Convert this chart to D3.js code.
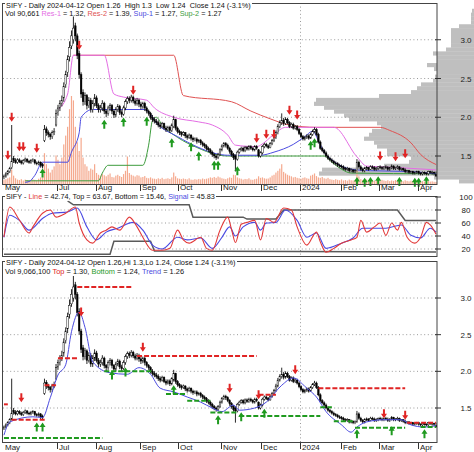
<!DOCTYPE html>
<html>
<head>
<meta charset="utf-8">
<script src="https://cdn.jsdelivr.net/npm/d3@7/dist/d3.min.js"></script>
<style>
  html, body { margin: 0; padding: 0; background: #fff; }
  svg { display: block; }
  text { font-family: "Liberation Sans", Arial, sans-serif; }
</style>
</head>
<body>
<svg id="chart" width="474" height="452"></svg>
<script>
// ---- Daily SIFY prices, 2023-05-22 .. 2024-04-12 ----
const openP = [
  1.22,1.24,1.27,1.30,1.35,1.47,1.44,1.42,1.45,1.43,
  1.41,1.44,1.46,1.43,1.42,1.44,1.45,1.41,1.40,1.42,
  1.39,1.70,1.85,1.80,1.78,1.75,1.80,1.90,2.06,2.12,
  2.18,2.25,2.42,2.58,2.78,2.92,3.00,3.18,3.05,2.82,
  2.55,2.32,2.20,2.28,2.15,2.22,2.10,2.18,2.25,2.15,
  2.10,2.12,2.18,2.08,2.05,2.12,2.15,2.08,2.03,2.10,
  2.14,2.06,2.04,2.12,2.20,2.24,2.22,2.26,2.21,2.18,
  2.22,2.17,2.14,2.18,2.12,2.08,2.05,2.00,1.97,1.95,
  1.93,1.90,1.88,1.92,1.86,1.84,1.87,1.83,1.88,1.97,
  1.86,1.82,1.80,1.78,1.80,1.76,1.74,1.77,1.73,1.71,
  1.72,1.69,1.70,1.67,1.65,1.63,1.60,1.58,1.55,1.52,
  1.50,1.48,1.52,1.58,1.63,1.66,1.64,1.60,1.56,1.52,
  1.50,1.46,1.55,1.58,1.60,1.57,1.61,1.59,1.62,1.60,
  1.58,1.62,1.58,1.50,1.54,1.62,1.65,1.63,1.61,1.66,
  1.70,1.74,1.80,1.88,1.93,1.96,1.92,1.97,1.93,1.88,
  1.91,1.86,1.88,1.84,1.79,1.75,1.72,1.74,1.76,1.73,
  1.78,1.82,1.84,1.78,1.68,1.60,1.57,1.54,1.50,1.47,
  1.45,1.43,1.41,1.40,1.38,1.37,1.36,1.34,1.33,1.34,
  1.31,1.32,1.30,1.31,1.42,1.36,1.33,1.31,1.34,1.35,
  1.33,1.36,1.35,1.33,1.34,1.36,1.35,1.34,1.36,1.35,
  1.33,1.35,1.37,1.34,1.35,1.36,1.33,1.34,1.32,1.30,
  1.31,1.29,1.30,1.28,1.29,1.30,1.28,1.27,1.29,1.28,
  1.27,1.30,1.29,1.29,1.26
];
const highP = [
  1.26,1.29,1.32,1.36,1.90,1.50,1.47,1.47,1.47,1.45,
  1.46,1.48,1.47,1.45,1.46,1.47,1.46,1.43,1.44,1.43,
  1.41,1.90,1.88,1.83,1.80,1.83,1.86,2.10,2.16,2.22,
  2.28,2.45,2.60,2.80,2.98,3.12,3.30,3.22,3.08,2.86,
  2.58,2.36,2.32,2.30,2.26,2.25,2.22,2.30,2.28,2.18,
  2.16,2.22,2.20,2.10,2.15,2.18,2.17,2.10,2.13,2.17,
  2.16,2.09,2.15,2.23,2.27,2.27,2.29,2.28,2.24,2.25,
  2.24,2.20,2.20,2.20,2.14,2.10,2.07,2.03,2.00,1.98,
  1.96,1.93,1.94,1.93,1.89,1.89,1.89,1.92,2.02,1.98,
  1.88,1.84,1.82,1.82,1.81,1.78,1.79,1.78,1.75,1.74,
  1.74,1.72,1.72,1.69,1.67,1.65,1.62,1.60,1.57,1.54,
  1.52,1.54,1.60,1.65,1.68,1.68,1.66,1.62,1.58,1.54,
  1.52,1.57,1.60,1.62,1.62,1.63,1.63,1.64,1.64,1.62,
  1.64,1.64,1.59,1.56,1.64,1.67,1.67,1.65,1.68,1.72,
  1.76,1.83,1.91,1.96,2.05,1.99,2.00,1.99,1.95,1.93,
  1.93,1.90,1.90,1.86,1.81,1.77,1.76,1.78,1.78,1.80,
  1.84,1.87,1.86,1.80,1.70,1.62,1.59,1.56,1.52,1.49,
  1.47,1.45,1.43,1.42,1.40,1.39,1.38,1.36,1.36,1.35,
  1.34,1.33,1.33,1.46,1.44,1.38,1.35,1.36,1.37,1.36,
  1.38,1.38,1.37,1.36,1.37,1.38,1.37,1.37,1.38,1.37,
  1.36,1.39,1.38,1.36,1.38,1.37,1.35,1.35,1.34,1.32,
  1.32,1.31,1.31,1.30,1.31,1.31,1.29,1.30,1.30,1.29,
  1.31,1.31,1.31,1.30,1.30
];
const lowP = [
  1.20,1.22,1.25,1.28,1.33,1.41,1.40,1.40,1.41,1.39,
  1.39,1.42,1.41,1.40,1.40,1.42,1.39,1.38,1.38,1.35,
  1.34,1.68,1.76,1.74,1.71,1.72,1.77,1.88,2.02,2.08,
  2.14,2.20,2.38,2.52,2.72,2.88,2.95,2.98,2.75,2.50,
  2.25,2.15,2.16,2.10,2.12,2.06,2.06,2.14,2.12,2.06,
  2.06,2.08,2.04,2.00,2.02,2.08,2.04,1.99,2.00,2.07,
  2.03,2.00,2.02,2.09,2.17,2.18,2.19,2.18,2.15,2.15,
  2.13,2.10,2.11,2.08,2.05,2.02,1.97,1.94,1.92,1.90,
  1.87,1.85,1.86,1.84,1.81,1.82,1.80,1.81,1.86,1.83,
  1.79,1.77,1.75,1.76,1.73,1.71,1.72,1.70,1.68,1.69,
  1.66,1.67,1.64,1.62,1.60,1.57,1.55,1.52,1.49,1.47,
  1.45,1.46,1.50,1.56,1.61,1.61,1.58,1.53,1.49,1.45,
  1.30,1.44,1.53,1.56,1.55,1.55,1.57,1.57,1.58,1.56,
  1.56,1.58,1.48,1.48,1.52,1.60,1.61,1.59,1.60,1.64,
  1.68,1.72,1.78,1.86,1.90,1.89,1.90,1.91,1.86,1.86,
  1.84,1.84,1.82,1.77,1.73,1.70,1.70,1.72,1.71,1.72,
  1.76,1.80,1.76,1.66,1.58,1.55,1.52,1.48,1.45,1.43,
  1.41,1.39,1.38,1.36,1.35,1.34,1.32,1.31,1.31,1.29,
  1.29,1.28,1.28,1.30,1.34,1.31,1.29,1.29,1.32,1.31,
  1.32,1.33,1.31,1.31,1.32,1.33,1.32,1.32,1.33,1.31,
  1.31,1.33,1.32,1.32,1.33,1.31,1.31,1.30,1.28,1.28,
  1.27,1.27,1.26,1.26,1.27,1.26,1.25,1.25,1.26,1.25,
  1.25,1.27,1.26,1.25,1.24
];
const closeP = [
  1.24,1.27,1.30,1.34,1.43,1.44,1.42,1.45,1.43,1.41,
  1.44,1.46,1.43,1.42,1.44,1.45,1.41,1.40,1.42,1.38,
  1.37,1.84,1.80,1.78,1.75,1.80,1.82,2.05,2.12,2.18,
  2.22,2.40,2.55,2.75,2.90,3.05,3.15,3.05,2.80,2.55,
  2.30,2.20,2.28,2.15,2.22,2.10,2.18,2.25,2.15,2.10,
  2.12,2.18,2.08,2.05,2.12,2.15,2.08,2.03,2.10,2.14,
  2.06,2.04,2.12,2.20,2.24,2.22,2.26,2.21,2.18,2.22,
  2.17,2.14,2.18,2.12,2.08,2.05,2.00,1.97,1.95,1.93,
  1.90,1.88,1.92,1.86,1.84,1.87,1.83,1.90,1.97,1.86,
  1.82,1.80,1.78,1.80,1.76,1.74,1.77,1.73,1.71,1.72,
  1.69,1.70,1.67,1.65,1.63,1.60,1.58,1.55,1.52,1.50,
  1.48,1.52,1.58,1.63,1.66,1.64,1.60,1.56,1.52,1.48,
  1.46,1.55,1.58,1.60,1.57,1.61,1.59,1.62,1.60,1.58,
  1.62,1.60,1.50,1.54,1.62,1.65,1.63,1.61,1.66,1.70,
  1.74,1.80,1.88,1.93,1.96,1.92,1.97,1.93,1.88,1.91,
  1.86,1.88,1.84,1.79,1.75,1.72,1.74,1.76,1.73,1.78,
  1.82,1.84,1.78,1.68,1.60,1.57,1.54,1.50,1.47,1.45,
  1.43,1.41,1.40,1.38,1.37,1.36,1.34,1.33,1.34,1.31,
  1.32,1.30,1.31,1.42,1.36,1.33,1.31,1.34,1.35,1.33,
  1.36,1.35,1.33,1.34,1.36,1.35,1.34,1.36,1.35,1.33,
  1.35,1.37,1.34,1.35,1.36,1.33,1.34,1.32,1.30,1.31,
  1.29,1.30,1.28,1.29,1.30,1.28,1.27,1.29,1.28,1.27,
  1.30,1.29,1.29,1.28,1.24
];
// daily volume, thousands of shares
const volumeK = [
  180,220,260,300,650,380,260,200,180,220,
  160,200,180,150,170,210,190,160,240,300,
  300,1400,900,700,520,650,800,1300,1100,900,
  1200,1800,2200,2600,3400,4000,3800,2600,1900,1500,
  2100,1200,900,800,600,700,650,900,500,420,
  380,450,400,350,420,480,320,300,380,420,
  360,320,450,600,1250,500,420,380,340,400,
  380,300,320,360,280,260,300,250,240,220,
  260,230,280,220,240,260,230,300,520,350,
  260,240,220,250,230,210,260,200,190,220,
  200,230,210,250,220,240,260,300,280,320,
  280,340,300,260,240,220,260,300,280,420,
  400,300,260,240,200,230,220,260,200,190,
  220,240,350,280,300,260,240,250,300,380,
  420,520,600,700,900,550,480,420,380,350,
  300,320,280,260,240,280,300,260,240,380,
  420,480,360,300,280,320,260,240,280,220,
  200,180,220,190,170,210,160,180,150,200,
  170,160,190,600,350,220,180,160,200,170,
  150,180,160,140,170,150,190,160,140,170,
  130,160,140,180,150,130,160,120,170,140,
  120,150,130,110,140,120,100,130,110,120,
  140,110,120,100,91
];

// trading calendar
const firstDay = "2023-05-22", lastDay = "2024-04-12";
const holidays = ["2023-05-29","2023-06-19","2023-07-04","2023-09-04","2023-11-23",
                  "2023-12-25","2024-01-01","2024-01-15","2024-02-19","2024-03-29"];
const axisMonths = ["2023-05","2023-07","2023-08","2023-09","2023-10","2023-11","2023-12","2024-01","2024-02","2024-03","2024-04"];
const axisLabels = ["May","Jul","Aug","Sep","Oct","Nov","Dec","2024","Feb","Mar","Apr"];
const yearStart = "2024-01";

// support / resistance lines (day index, price)
const res1Idx = [28,33,36,52,57,62,74,78,88,101,108,116,120,131,133,140,146,171,183,188,205,224];
const res1Val = [2.10,2.30,2.80,2.80,2.30,2.26,2.22,2.12,2.00,1.94,1.90,1.77,1.64,1.62,1.64,1.78,1.87,1.87,1.49,1.37,1.35,1.32];
const res2Idx = [36,88,93,118,128,138,148,162,195,200,211,216,224];
const res2Val = [2.80,2.80,2.28,2.20,2.08,1.98,1.90,1.87,1.87,1.83,1.67,1.52,1.39];
const sup1Idx = [11,13,16,20,33,35,39,40,46,73,80,90,100,110,116,133,140,150,156,160,163,166,170,175,180,190,210,224];
const sup1Val = [1.16,1.17,1.25,1.42,1.42,1.55,1.80,2.00,2.10,2.10,1.90,1.75,1.62,1.53,1.51,1.51,1.55,1.65,1.75,1.82,1.70,1.55,1.45,1.37,1.33,1.31,1.30,1.27];
const sup2Idx = [11,49,51,54,72,75,77,79,82,90,100,110,116,166,170,175,180,224];
const sup2Val = [1.18,1.18,1.28,1.38,1.38,1.64,1.96,2.00,1.90,1.74,1.61,1.52,1.50,1.50,1.42,1.33,1.28,1.27];

// volume-at-price profile (bin lower edge, thousands of shares)
const profileBin = [1.15,1.20,1.25,1.30,1.35,1.40,1.45,1.50,1.55,1.60,1.65,1.70,1.75,1.80,1.85,1.90,1.95,2.00,2.05,2.10,2.15,2.20,2.25,2.30,2.35,2.40,2.45,2.50,2.55,2.60,2.65,2.70,2.75,2.80,2.85,2.90,2.95,3.00,3.05,3.10,3.15,3.20,3.25,3.30,3.35];
const profileVol = [1500,4000,15500,15200,9000,6500,6300,8700,8700,9700,10000,11000,10500,10200,9300,9700,12500,13000,14000,15000,16000,15800,9500,6300,5700,5300,4100,3900,3700,4000,4700,3700,3700,4100,2800,2300,2300,2300,2300,2300,1500,300,300,300,200];

// signal arrows (day index, price level)
const p1SellIdx = [2,4,8,10,17,39,67,131,136,140,148,152,195,203,208];
const p1SellAt  = [1.51,2.00,1.62,1.62,1.60,2.93,2.35,1.73,1.78,1.78,2.09,2.03,1.50,1.49,1.53];
const p1BuyIdx  = [20,52,62,74,87,97,101,109,111,121,159,161,183,187,190,194,205,213,215,219];
const p1BuyAt   = [1.28,1.91,1.94,1.95,1.67,1.62,1.50,1.38,1.38,1.31,1.64,1.67,1.17,1.16,1.17,1.18,1.17,1.16,1.16,1.18];
const p3SellIdx = [9,40,72,117,132,151,197,208];
const p3SellAt  = [1.64,2.81,2.33,1.77,1.68,2.02,1.42,1.40];
const p3BuyIdx  = [17,20,56,63,88,111,123,135,183,201,218];
const p3BuyAt   = [1.24,1.24,1.95,1.99,1.75,1.34,1.38,1.43,1.15,1.19,1.15];

// oscillator panel (day index, value)
const lineIdx = [0,3,8,13,15,20,24,27,32,37,39,43,46,50,53,56,60,65,69,72,77,82,86,90,93,96,102,105,108,112,116,118,120,123,126,130,133,136,140,145,149,152,157,162,164,167,171,175,180,183,185,188,192,195,198,201,204,206,209,213,216,219,221,224];
const lineVal = [38.5,84.6,64.6,44.6,54,75,80,69,75,84.6,60,34,29,44.6,49,54,49,69,54,38,18,18,21,49,34,29,38,21,18,49,69,50,30,58,61,64,34,67,61,83,80,54,26,46,31,15,21,29,34,38,64,46,54,60,41,60,49,61,38,29,38,61,57,42.74];
const signalIdx = [0,3,8,13,20,25,33,38,43,48,53,59,67,72,77,82,90,95,102,108,113,117,120,124,130,133,136,141,146,152,157,162,167,175,181,186,192,198,206,211,216,221,224];
const signalVal = [38,72,64,49,67,75,77,83,54,34,46,52,61,49,26,20,38,34,37,21,38,54,40,54,61,49,60,61,80,64,38,44.6,21,29,37,52,52,52,57,41,37,52,45.83];
const bandTopIdx = [33,36,96,98,124,126,141,145,204,208,224];
const bandTopVal = [94,88,88,69,69,66,66,80,80,64,63.67];
const bandBotIdx = [0,55,57,76,78,224];
const bandBotVal = [12,12,32,32,17,15.46];

// lower panel: top / bottom levels (start index, end index, price) and trend
const topFrom  = [0,4,21,28,38,69,132,163,209];
const topTo    = [2,22,27,38,67,131,141,208,224];
const topLevel = [1.55,1.34,1.81,2.18,3.15,2.21,1.68,1.77,1.30];
const botFrom  = [0,52,84,95,107,122,164,171,182,216];
const botTo    = [51,77,95,107,121,164,170,181,208,224];
const botLevel = [1.09,2.00,1.69,1.60,1.44,1.39,1.51,1.32,1.23,1.24];
const trendIdx = [0,3,15,20,24,28,32,35,39,42,46,55,64,70,76,81,88,95,102,108,113,119,122,130,136,144,150,157,162,167,175,180,183,188,197,206,211,218,224];
const trendVal = [1.13,1.31,1.38,1.37,1.64,1.95,2.09,2.54,2.81,2.60,2.13,1.98,1.96,2.05,1.96,1.77,1.72,1.65,1.58,1.50,1.45,1.54,1.47,1.50,1.58,1.81,1.91,1.77,1.65,1.45,1.27,1.17,1.24,1.31,1.34,1.34,1.27,1.24,1.26];

const priceTicks = [1.5, 2.0, 2.5, 3.0];
const oscTicks = [20, 40, 60, 80, 100];
const oscGrid = [20, 40, 60, 80];

// ---------------------------------------------------------------
const days = [];
for (let t = Date.parse(firstDay); t <= Date.parse(lastDay); t += 864e5) {
  const d = new Date(t), wd = d.getUTCDay(), s = d.toISOString().slice(0, 10);
  if (wd > 0 && wd < 6 && !holidays.includes(s)) days.push(s);
}
const N = closeP.length;
const svg = d3.select("#chart");
const x = d3.scaleLinear().domain([-0.5, N - 0.5]).range([3, 437]);

const P1 = { top: 3, bottom: 184 };
const P2 = { top: 196, bottom: 256 };
const P3 = { top: 261, bottom: 442 };
const y1 = d3.scaleLinear().domain([1.5, 3.0]).range([156, 39.75]);
const y2 = d3.scaleLinear().domain([20, 100]).range([249, 197]);
const y3 = d3.scaleLinear().domain([1.5, 3.0]).range([408, 298]);
const yVol = d3.scaleLinear().domain([0, 4000]).range([184, 96]);
const xProf = d3.scaleLinear().domain([0, 16000]).range([474, 314]);

const C = {
  frame: "#444", grid: "#9a9a9a", res1: "#e46de4", res2: "#e05252",
  sup1: "#4b4be0", sup2: "#3c9c3c", red: "#e02424", green: "#1f9a1f",
  vol: "#f5a98e", prof: "#bfbfbf", line: "#e23a3a", signal: "#4a4ae2", band: "#5a5a5a"
};

const defs = svg.append("defs");
function clip(id, p) {
  defs.append("clipPath").attr("id", id).append("rect")
    .attr("x", 3).attr("y", p.top).attr("width", 434).attr("height", p.bottom - p.top);
  return `url(#${id})`;
}
const clip1 = clip("c1", P1), clip2 = clip("c2", P2), clip3 = clip("c3", P3);

const monthIdx = axisMonths.map(m => days.findIndex(d => d.startsWith(m)));
const yearIdx = days.findIndex(d => d.startsWith(yearStart));
const zip = (a, b) => a.map((v, i) => [v, b[i]]);

function gridH(vals, y) {
  svg.append("g").selectAll("line").data(vals).join("line")
    .attr("x1", 3).attr("x2", 437).attr("y1", d => y(d)).attr("y2", d => y(d))
    .attr("stroke", C.grid).attr("stroke-width", 1).attr("stroke-dasharray", "1,2.6");
}
function gridV(p) {
  const xv = Math.round(x(yearIdx) - 1) + 0.5;
  svg.append("line").attr("x1", xv).attr("x2", xv).attr("y1", p.top).attr("y2", p.bottom)
    .attr("stroke", C.grid).attr("stroke-dasharray", "1,2.6");
}
function frame(p) {
  svg.append("rect").attr("x", 2.5).attr("y", p.top + 0.5).attr("width", 434.5)
    .attr("height", p.bottom - p.top).attr("fill", "none").attr("stroke", C.frame).attr("stroke-width", 1);
}
function rightAxis(vals, y, fmt) {
  const g = svg.append("g");
  g.selectAll("line").data(vals).join("line")
    .attr("x1", 435).attr("x2", 441).attr("y1", d => y(d)).attr("y2", d => y(d))
    .attr("stroke", "#333");
  g.selectAll("text").data(vals).join("text")
    .attr("x", 466).attr("y", d => y(d) + 3).attr("text-anchor", "middle")
    .attr("font-size", 8).attr("fill", "#222").text(fmt);
}
function monthAxis(yBase, textY) {
  const g = svg.append("g");
  monthIdx.forEach((i, k) => {
    const tx = Math.round(x(i) - 1) + 0.5;
    if (i > 0) g.append("line").attr("x1", tx).attr("x2", tx).attr("y1", yBase + 1).attr("y2", yBase + 7)
      .attr("stroke", "#333");
    g.append("text").attr("x", i > 0 ? tx + 1.5 : 5).attr("y", textY)
      .attr("font-size", 8).attr("fill", "#222").text(axisLabels[k]);
  });
}
function title(x0, yb, parts, width, backed) {
  const g = svg.append("g");
  const t = g.append("text").attr("font-size", 7.5).style("white-space", "pre");
  parts.forEach(([s, c]) => t.append("tspan").attr("fill", c).text(s));
  const len = t.node().getComputedTextLength();
  if (backed) g.insert("rect", "text").attr("x", -1).attr("y", -6.5).attr("width", len + 2)
    .attr("height", 8).attr("fill", "#fff");
  g.attr("transform", `translate(${x0},${yb}) scale(${width / len},1)`);
}
function candles(p, y, cp) {
  const g = svg.append("g").attr("clip-path", cp);
  const idx = d3.range(N);
  g.selectAll("line").data(idx).join("line")
    .attr("x1", i => x(i)).attr("x2", i => x(i))
    .attr("y1", i => y(highP[i])).attr("y2", i => y(lowP[i]))
    .attr("stroke", "#111").attr("stroke-width", 0.9);
  g.selectAll("rect").data(idx).join("rect")
    .attr("x", i => x(i) - 0.8).attr("width", 1.6)
    .attr("y", i => y(Math.max(openP[i], closeP[i])))
    .attr("height", i => Math.max(0.8, Math.abs(y(openP[i]) - y(closeP[i]))))
    .attr("fill", i => closeP[i] >= openP[i] ? "#fff" : "#000")
    .attr("stroke", "#000").attr("stroke-width", 0.45);
}
function path(pts, y, color, w, curve, cp, dash) {
  const p = svg.append("path").datum(pts)
    .attr("d", d3.line().x(d => x(d[0])).y(d => y(d[1])).curve(curve))
    .attr("fill", "none").attr("stroke", color).attr("stroke-width", w)
    .attr("clip-path", cp);
  if (dash) p.attr("stroke-dasharray", dash);
}
function arrows(idx, at, y, down, color) {
  svg.append("g").selectAll("path").data(idx.map((d, k) => [d, at[k]])).join("path")
    .attr("d", d => {
      const cx = x(d[0]), cy = y(d[1]), s = down ? 1 : -1;
      return `M${cx - 1},${cy - 4.5 * s}L${cx + 1},${cy - 4.5 * s}L${cx + 1},${cy}` +
             `L${cx + 3},${cy}L${cx},${cy + 4.5 * s}L${cx - 3},${cy}L${cx - 1},${cy}Z`;
    })
    .attr("fill", color);
}

// ---------------- Panel 1: price, volume, support/resistance ----------------
svg.append("g").selectAll("rect").data(profileBin).join("rect")
  .attr("x", (d, k) => xProf(profileVol[k]))
  .attr("width", (d, k) => 474 - xProf(profileVol[k]))
  .attr("y", d => y1(d + 0.05)).attr("height", d => y1(d) - y1(d + 0.05) + 0.3)
  .attr("fill", C.prof);
gridH(priceTicks, y1);
gridV(P1);
svg.append("g").attr("clip-path", clip1).selectAll("rect").data(volumeK).join("rect")
  .attr("x", (d, i) => x(i) - 0.6).attr("width", 1.2)
  .attr("y", d => yVol(d)).attr("height", d => 184 - yVol(d))
  .attr("fill", C.vol);
path(zip(res2Idx, res2Val), y1, C.res2, 1, d3.curveMonotoneX, clip1);
path(zip(res1Idx, res1Val), y1, C.res1, 1, d3.curveMonotoneX, clip1);
path(zip(sup2Idx, sup2Val), y1, C.sup2, 1, d3.curveMonotoneX, clip1);
path(zip(sup1Idx, sup1Val), y1, C.sup1, 1, d3.curveMonotoneX, clip1);
candles(P1, y1, clip1);
arrows(p1SellIdx, p1SellAt, y1, true, C.red);
arrows(p1BuyIdx, p1BuyAt, y1, false, C.green);
frame(P1);
rightAxis(priceTicks, y1, d3.format(".1f"));
monthAxis(P1.bottom, 190);
title(6, 7.5, [["SIFY - Daily 2024-04-12 Open 1.26  High 1.3  Low 1.24  Close 1.24 (-3.1%)", "#111"]], 245, true);
title(5, 16, [["Vol 90,661 ", "#111"], ["Res-1", C.res1], [" = 1.32, ", "#111"], ["Res-2", C.res2],
  [" = 1.39, ", "#111"], ["Sup-1", C.sup1], [" = 1.27, ", "#111"], ["Sup-2", C.sup2], [" = 1.27", "#111"]], 217, false);

// ---------------- Panel 2: oscillator ----------------
gridH(oscGrid, y2);
gridV(P2);
path(zip(bandTopIdx, bandTopVal), y2, C.band, 1.5, d3.curveLinear, clip2);
path(zip(bandBotIdx, bandBotVal), y2, C.band, 1.5, d3.curveLinear, clip2);
path(zip(signalIdx, signalVal), y2, C.signal, 1.1, d3.curveMonotoneX, clip2);
path(zip(lineIdx, lineVal), y2, C.line, 1.1, d3.curveMonotoneX, clip2);
frame(P2);
rightAxis(oscTicks, y2, d3.format("d"));
title(6, 199.3, [["SIFY - ", "#111"], ["Line", C.line], [" = 42.74, Top = 63.67, Bottom = 15.46, ", "#111"],
  ["Signal", C.signal], [" = 45.83", "#111"]], 209, true);

// ---------------- Panel 3: price with top / bottom levels ----------------
gridH(priceTicks, y3);
gridV(P3);
candles(P3, y3, clip3);
path(zip(trendIdx, trendVal), y3, C.sup1, 1, d3.curveMonotoneX, clip3);
svg.append("g").attr("clip-path", clip3).selectAll("line").data(topLevel).join("line")
  .attr("x1", (d, k) => x(topFrom[k])).attr("x2", (d, k) => x(topTo[k]))
  .attr("y1", d => y3(d)).attr("y2", d => y3(d))
  .attr("stroke", C.red).attr("stroke-width", 2).attr("stroke-dasharray", "5,2");
svg.append("g").attr("clip-path", clip3).selectAll("line").data(botLevel).join("line")
  .attr("x1", (d, k) => x(botFrom[k])).attr("x2", (d, k) => x(botTo[k]))
  .attr("y1", d => y3(d)).attr("y2", d => y3(d))
  .attr("stroke", C.green).attr("stroke-width", 2).attr("stroke-dasharray", "5,2");
arrows(p3SellIdx, p3SellAt, y3, true, C.red);
arrows(p3BuyIdx, p3BuyAt, y3, false, C.green);
frame(P3);
rightAxis(priceTicks, y3, d3.format(".1f"));
monthAxis(P3.bottom, 450);
title(6, 264.5, [["SIFY - Daily 2024-04-12 Open 1.26,Hi 1.3,Lo 1.24, Close 1.24 (-3.1%)", "#111"]], 230, true);
title(5, 273.5, [["Vol 9,066,100 ", "#111"], ["Top", C.red], [" = 1.30, ", "#111"], ["Bottom", C.green],
  [" = 1.24, ", "#111"], ["Trend", C.sup1], [" = 1.26", "#111"]], 179, false);
</script>
</body>
</html>
